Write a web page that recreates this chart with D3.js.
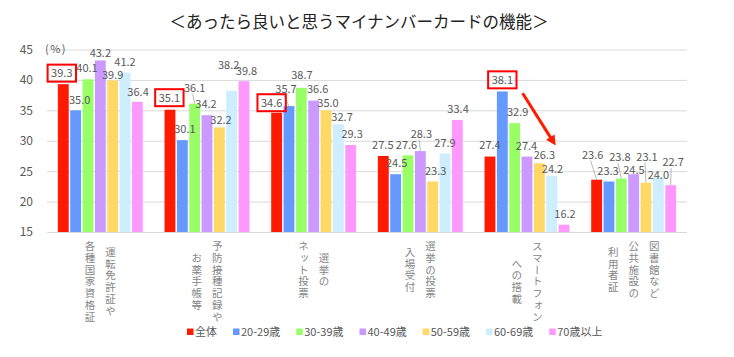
<!DOCTYPE html>
<html><head><meta charset="utf-8">
<script src="https://cdn.jsdelivr.net/npm/d3@7"></script>
<style>
body{margin:0;background:#fff}
text{font-family:"Noto Sans CJK JP","Noto Sans",sans-serif}
</style>
</head><body>
<svg id="c" width="734" height="357"></svg>
<script>
// ---------- data ----------
const title = "＜あったら良いと思うマイナンバーカードの機能＞";
const categories = [
  ["運転免許証や","各種国家資格証"],
  ["予防接種記録や","お薬手帳等"],
  ["選挙の","ネット投票"],
  ["選挙の投票","入場受付"],
  ["スマートフォン","への搭載"],
  ["図書館など","公共施設の","利用者証"]
];
const seriesNames = ["全体","20-29歳","30-39歳","40-49歳","50-59歳","60-69歳","70歳以上"];
const sAll = [39.3, 35.1, 34.6, 27.5, 27.4, 23.6];
const s20s = [35.0, 30.1, 35.7, 24.5, 38.1, 23.3];
const s30s = [40.1, 36.1, 38.7, 27.6, 32.9, 23.8];
const s40s = [43.2, 34.2, 36.6, 28.3, 27.4, 24.5];
const s50s = [39.9, 32.2, 35.0, 23.3, 26.3, 23.1];
const s60s = [41.2, 38.2, 32.7, 27.9, 24.2, 24.0];
const s70s = [36.4, 39.8, 29.3, 33.4, 16.2, 22.7];
const yTicks = [15, 20, 25, 30, 35, 40, 45];
const unitLabel = "(%)";
// highlighted labels: [category index, series index]
const highlighted = [[0,0],[1,0],[2,0],[4,1]];

// ---------- style ----------
const series = [sAll, s20s, s30s, s40s, s50s, s60s, s70s];
const colors = ["#ff1a00","#6699ff","#99ff66","#cc99ff","#ffd966","#cceeff","#ff99ff"];
// label centre offsets from (bar centre, bar top), mimicking the manual placement
const labelShift = [
  [[-1.5,-11],[4,-10],[-1,-11],[0,-7.5],[0,-5.6],[0,-10.7],[0.7,-10]],
  [[-0.6,-12],[2.6,-11],[0,-16],[-1,-11],[1.7,-7],[-3,-26],[2.5,-10.5]],
  [[-5,-10],[-3,-17],[0.6,-13],[4,-12],[2,-7],[3.7,-7],[1.4,-11]],
  [[-0.5,-11],[1,-11],[-1.5,-10],[1,-17],[3,-10.5],[0,-10.6],[0.7,-11]],
  [[0,-11.6],[0,-11.6],[3,-11],[-0.5,-10.6],[5,-8],[0.8,-7],[1,-10.7]],
  [[-4,-25],[-1,-10.5],[-1.4,-21.5],[0.3,-4],[1,-26],[0,-2],[2.4,-23]]
];
const leaders = [[1,2],[2,1],[3,3],[5,0],[5,2],[5,4],[5,6]];

const svg = d3.select("#c");
const pLeft = 47, pRight = 687, pBottom = 232, pTop = 49.5;

const x0 = d3.scaleBand().domain(d3.range(categories.length)).range([pLeft, pRight])
  .paddingInner(0.19).paddingOuter(0.095);
const x1 = d3.scaleBand().domain(d3.range(series.length)).range([0, x0.bandwidth()])
  .paddingInner(0.12).paddingOuter(0.06);
const y = d3.scaleLinear().domain([15, 45]).range([pBottom, pTop]);

// title
svg.append("text").attr("x", 359).attr("y", 22).attr("dy", "0.36em")
  .attr("text-anchor", "middle").attr("font-size", 16.5).attr("fill", "#222")
  .text(title);

// grid + y axis
const yAxis = svg.append("g").attr("transform", `translate(${pLeft},0)`)
  .call(d3.axisLeft(y).tickValues(yTicks).tickSize(-(pRight - pLeft)).tickPadding(14).tickFormat(d3.format("d")));
yAxis.select(".domain").remove();
yAxis.selectAll(".tick line").attr("stroke", "#d9d9d9").attr("stroke-width", 1);
yAxis.selectAll(".tick text").attr("font-size", 12).attr("fill", "#595959")
  .style("font-family", '"Noto Sans CJK JP","Noto Sans",sans-serif');

svg.append("text").attr("x", 45).attr("y", 49).attr("dy", "0.36em")
  .attr("font-size", 11).attr("fill", "#595959").attr("letter-spacing", 1.5).text(unitLabel);

// bars
const bars = [];
categories.forEach((c, ci) => series.forEach((s, si) => bars.push({ci, si, v: s[ci]})));
const bx = d => x0(d.ci) + x1(d.si);
svg.append("g").selectAll("rect").data(bars).join("rect")
  .attr("x", bx).attr("y", d => y(d.v))
  .attr("width", x1.bandwidth()).attr("height", d => pBottom - y(d.v))
  .attr("fill", d => colors[d.si]);

// leader lines
const cx = d => bx(d) + x1.bandwidth() / 2;
const lblX = d => cx(d) + labelShift[d.ci][d.si][0];
const lblY = d => y(d.v) + labelShift[d.ci][d.si][1];
const leaderBars = bars.filter(d => leaders.some(l => l[0] === d.ci && l[1] === d.si));
svg.append("g").selectAll("line").data(leaderBars).join("line")
  .attr("x1", d => lblX(d) - 2).attr("y1", d => lblY(d) + 6)
  .attr("x2", d => cx(d)).attr("y2", d => y(d.v))
  .attr("stroke", "#a6a6a6").attr("stroke-width", 0.8);

// value labels
const lbls = svg.append("g").selectAll("text").data(bars).join("text")
  .attr("x", lblX).attr("y", lblY).attr("dy", "0.36em")
  .attr("text-anchor", "middle").attr("font-size", 11).attr("fill", "#595959")
  .text(d => d.v.toFixed(1));

// highlight boxes
lbls.filter(d => highlighted.some(h => h[0] === d.ci && h[1] === d.si)).each(function () {
  const b = this.getBBox();
  svg.append("rect").attr("x", b.x - 3.5).attr("y", b.y + 0.5).attr("width", b.width + 7).attr("height", b.height + 1)
    .attr("fill", "none").attr("stroke", "#ff0000").attr("stroke-width", 2);
});

// arrow annotation
const arrowFrom = {ci: 4, si: 2, v: 37.8}, arrowTo = {ci: 4, si: 5, v: 29.2};
const ax1 = cx(arrowFrom) + 8, ay1 = y(arrowFrom.v), ax2 = cx(arrowTo) + 4, ay2 = y(arrowTo.v);
const ang = Math.atan2(ay2 - ay1, ax2 - ax1);
const hl = 10, hw = 5;
svg.append("line").attr("x1", ax1).attr("y1", ay1)
  .attr("x2", ax2 - Math.cos(ang) * hl * 0.8).attr("y2", ay2 - Math.sin(ang) * hl * 0.8)
  .attr("stroke", "#ff1a00").attr("stroke-width", 3);
const bxh = ax2 - Math.cos(ang) * hl, byh = ay2 - Math.sin(ang) * hl;
svg.append("path")
  .attr("d", `M${ax2},${ay2}L${bxh + Math.sin(ang) * hw},${byh - Math.cos(ang) * hw}L${bxh - Math.sin(ang) * hw},${byh + Math.cos(ang) * hw}Z`)
  .attr("fill", "#ff1a00");

// category labels (vertical text)
const colGap = 20.5, fs = 10.5, pitch = 11.9, labelTop = 240.5;
categories.forEach((lines, ci) => {
  const center = x0(ci) + x0.bandwidth() / 2;
  const maxLen = d3.max(lines, l => l.length);
  lines.forEach((line, li) => {
    const y0 = labelTop + (maxLen - line.length) * pitch / 2;
    svg.append("text")
      .attr("x", center + ((lines.length - 1) / 2 - li) * colGap)
      .attr("y", y0)
      .attr("text-anchor", "start")
      .attr("font-size", fs).attr("fill", "#858585")
      .attr("letter-spacing", pitch - fs)
      .style("writing-mode", "vertical-rl")
      .text(line);
  });
});

// legend
const lg = svg.append("g").attr("transform", "translate(187,332)");
let lx = 0;
seriesNames.forEach((n, i) => {
  lg.append("rect").attr("x", lx).attr("y", -3.5).attr("width", 6.5).attr("height", 6.5).attr("fill", colors[i]);
  const t = lg.append("text").attr("x", lx + 8).attr("y", 0).attr("dy", "0.36em")
    .attr("font-size", 11).attr("fill", "#595959").text(n);
  lx += 8 + t.node().getComputedTextLength() + 16;
});
</script>
</body></html>
